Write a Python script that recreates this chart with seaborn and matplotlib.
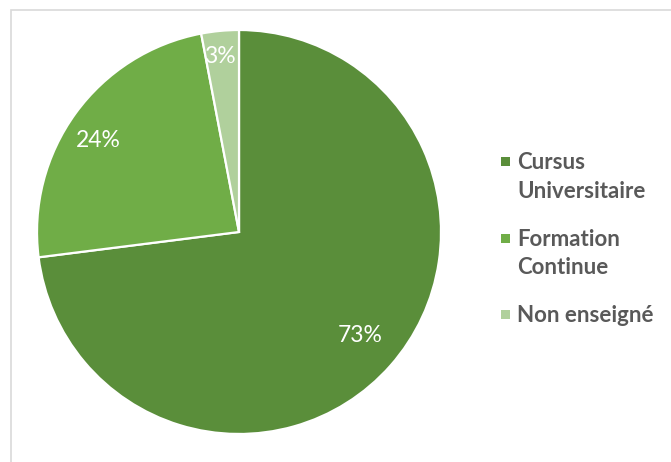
import numpy as np
import matplotlib
matplotlib.use("Agg")
from matplotlib import pyplot as plt
from matplotlib.patches import Rectangle
from matplotlib.legend_handler import HandlerPatch
import seaborn as sns

sns.set_theme(style="white")
plt.rcParams['font.family'] = ['Lato', 'DejaVu Sans']

categories = ["Cursus\nUniversitaire", "Formation\nContinue", "Non enseigné"]
shares = [73, 24, 3]
colors = ["#5A8E3A", "#70AD47", "#B0D09C"]
label_dist = [0.79, 0.83, 0.875]
label_turn = [1.0, 3.0, 0.8]


class SquareHandler(HandlerPatch):
    # legend square aligned with the first line of a multi-line label
    def __init__(self, nlines, spacing):
        super().__init__()
        self.nlines = nlines
        self.spacing = spacing

    def create_artists(self, legend, orig_handle, xdescent, ydescent,
                       width, height, fontsize, trans):
        s = 0.4 * fontsize
        shift = (self.nlines - 1) * self.spacing * fontsize / 2
        cx = width / 2 - xdescent
        cy = height / 2 - ydescent + shift
        p = Rectangle((cx - s / 2, cy - s / 2), s, s,
                      facecolor=orig_handle.get_facecolor(),
                      edgecolor="none", transform=trans)
        return [p]


fig = plt.figure(figsize=(6.71, 4.62), dpi=100)
ax = fig.add_axes([-0.0201, -0.0487, 0.7526, 1.0931])

wedges, texts, autotexts = ax.pie(
    shares, colors=colors, startangle=90, counterclock=False,
    autopct="%d%%", pctdistance=0.8,
    wedgeprops=dict(edgecolor="white", linewidth=1.6),
    textprops=dict(color="white", fontsize=16.5))
for w, t, d, a in zip(wedges, autotexts, label_dist, label_turn):
    mid = np.deg2rad((w.theta1 + w.theta2) / 2 + a)
    t.set_position((d * np.cos(mid), d * np.sin(mid)))
ax.set_aspect("equal")
ax.set_xlim(-1.25, 1.25)
ax.set_ylim(-1.25, 1.25)

linesp = 1.45
handler = {w: SquareHandler(c.count("\n") + 1, linesp)
           for w, c in zip(wedges, categories)}
leg = fig.legend(wedges, categories, loc="upper left",
                 bbox_to_anchor=(0.727, 0.694), frameon=False, borderpad=0,
                 handler_map=handler, handlelength=0.6, handletextpad=0.23,
                 labelspacing=1.2,
                 prop=dict(weight="bold", size=16))
for t in leg.get_texts():
    t.set_color("#595959")
    t.set_linespacing(linesp)

# chart area border (cut off on the right and bottom)
fig.add_artist(Rectangle((10.5 / 671, -0.1), 1.2, (462 - 10.5) / 462 + 0.1,
                         transform=fig.transFigure, fill=False,
                         edgecolor="#D9D9D9", linewidth=1.2))

fig.savefig("out.png", dpi=100)
